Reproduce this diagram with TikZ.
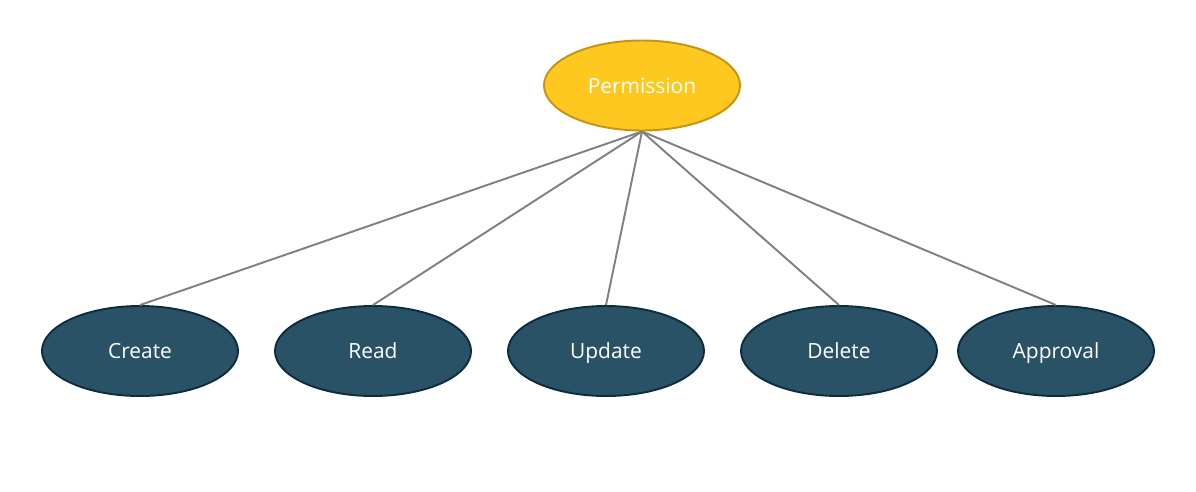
\documentclass[tikz,border=0pt]{standalone}
\usepackage{fontspec}
\setmainfont{Open Sans}
\definecolor{permfill}{HTML}{FFC820}
\definecolor{permdraw}{HTML}{C39510}
\definecolor{opfill}{HTML}{2A5266}
\definecolor{opdraw}{HTML}{0E2C40}
\definecolor{linkgray}{HTML}{808080}
\tikzset{
  oval/.style={ellipse, minimum width=3.92cm, minimum height=1.8cm, inner sep=0pt,
    line width=1.1pt, text=white, font=\fontsize{11.9}{14}\selectfont,
    text height=1.9ex, text depth=0.25ex},
  perm/.style={oval, fill=permfill, draw=permdraw},
  op/.style={oval, fill=opfill, draw=opdraw},
  link/.style={draw=linkgray, line width=1.1pt}
}
\usetikzlibrary{shapes.geometric}
\begin{document}
\begin{tikzpicture}
          \useasboundingbox (0,0) rectangle (23.92,-9.84);
          \node[perm] (permission) at (12.84,-1.71) {Permission};
          \node[op] (create) at (2.80,-7.02) {Create};
          \node[op] (read) at (7.46,-7.02) {Read};
          \node[op] (update) at (12.12,-7.02) {Update};
          \node[op] (delete) at (16.78,-7.02) {Delete};
          \node[op] (approval) at (21.12,-7.02) {Approval};
          \foreach \n in {create,read,update,delete,approval}
            \draw[link] (permission.south) -- (\n.north);
        \end{tikzpicture}
\end{document}
